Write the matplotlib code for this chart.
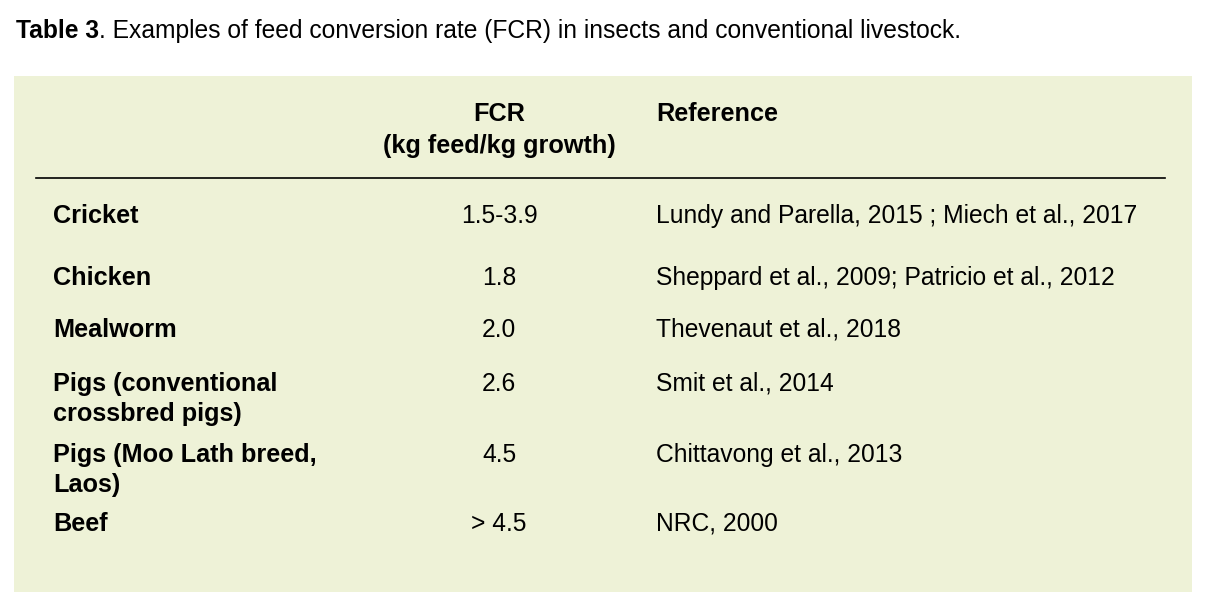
import matplotlib.pyplot as plt
from matplotlib.patches import Rectangle

# table content
title_bold = "Table 3"
title_rest = ". Examples of feed conversion rate (FCR) in insects and conventional livestock."
col_headers = ["FCR\n(kg feed/kg growth)", "Reference"]
animals = ["Cricket", "Chicken", "Mealworm", "Pigs (conventional\ncrossbred pigs)",
           "Pigs (Moo Lath breed,\nLaos)", "Beef"]
fcr = ["1.5-3.9", "1.8", "2.0", "2.6", "4.5", "> 4.5"]
references = ["Lundy and Parella, 2015 ; Miech et al., 2017",
              "Sheppard et al., 2009; Patricio et al., 2012",
              "Thevenaut et al., 2018",
              "Smit et al., 2014",
              "Chittavong et al., 2013",
              "NRC, 2000"]

# layout in pixels
row_y = [216, 278, 330, 384, 455, 524]
line_gap = 30
x_label = 53
x_fcr = 499
x_ref = 656
bg_color = "#eef2d7"
font = "Liberation Sans"
fs = 17.7
fs_bold = 18.2

fig = plt.figure(figsize=(12.1, 6.16), dpi=100)
ax = fig.add_axes([0, 0, 1, 1])
ax.set_xlim(0, 1210)
ax.set_ylim(616, 0)
ax.axis("off")

ax.add_patch(Rectangle((14, 76), 1178, 516, facecolor=bg_color, edgecolor="none"))
ax.plot([36, 1165], [178, 178], color="black", lw=1.2)

t = ax.text(16, 31, title_bold, fontsize=fs, fontweight="bold", family=font, va="center")
fig.canvas.draw()
bb = t.get_window_extent()
ax.text(16 + bb.width, 31, title_rest, fontsize=fs, family=font, va="center")

for k, part in enumerate(col_headers[0].split("\n")):
    ax.text(x_fcr, 114 + k * 32, part, fontsize=fs_bold, fontweight="bold", family=font,
            ha="center", va="center")
ax.text(x_ref, 114, col_headers[1], fontsize=fs_bold, fontweight="bold", family=font, va="center")

for y, a, f, r in zip(row_y, animals, fcr, references):
    for k, part in enumerate(a.split("\n")):
        ax.text(x_label, y + k * line_gap, part, fontsize=fs_bold, fontweight="bold",
                family=font, va="center")
    ax.text(x_fcr, y, f, fontsize=fs, family=font, ha="center", va="center")
    ax.text(x_ref, y, r, fontsize=fs, family=font, va="center")

fig.savefig("out.png", dpi=100, facecolor="white")
